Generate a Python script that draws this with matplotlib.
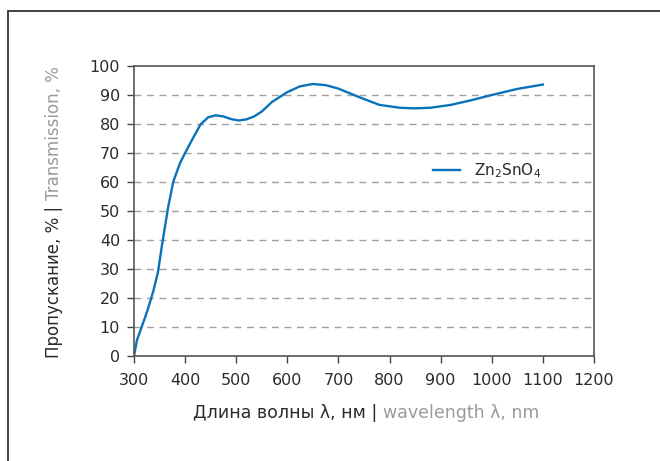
import matplotlib
matplotlib.use("Agg")
import matplotlib.pyplot as plt
from matplotlib.patches import Rectangle

# transmission spectrum of Zn2SnO4
wavelength = [300, 306, 315, 326, 338, 347, 355, 367, 377, 390, 400, 415, 430, 445,
              460, 475, 490, 505, 520, 535, 550, 570, 600, 625, 650, 675, 700, 740,
              780, 820, 850, 880, 920, 960, 1000, 1050, 1100]
transmission = [0, 5.6, 10, 15.5, 22.5, 29, 38.5, 51.5, 60.2, 66.5, 70, 75, 79.8, 82.3,
                83, 82.6, 81.7, 81.2, 81.6, 82.6, 84.3, 87.6, 91, 93, 93.8, 93.4, 92.2, 89.3,
                86.6, 85.6, 85.4, 85.6, 86.6, 88.2, 90, 92.1, 93.6]
series_name = r"Zn$_2$SnO$_4$"
x_ticks = list(range(300, 1201, 100))
y_ticks = list(range(0, 101, 10))

DARK = "#2b2b2b"
GREY = "#9a9a9a"
plt.rcParams["font.family"] = ["DejaVu Sans"]
plt.rcParams["mathtext.fontset"] = "dejavusans"

fig = plt.figure(figsize=(6.6, 4.61), dpi=100)
W, H = 660, 461

# outer frame (runs off right and bottom edges)
fig.patches.append(Rectangle((8 / W, -0.1), 1.2, 1 - 11.5 / H + 0.1, transform=fig.transFigure,
                             fill=False, edgecolor="#333333", linewidth=1.3))

ax = fig.add_axes([134 / W, 1 - 356 / H, (594 - 134) / W, (356 - 66) / H])
ax.plot(wavelength, transmission, color="#0a72ba", linewidth=1.7, label=series_name)

ax.set_xlim(300, 1200)
ax.set_ylim(0, 100)
ax.set_xticks(x_ticks)
ax.set_yticks(y_ticks)
ax.tick_params(direction="out", length=5, width=1, color="#444444", labelcolor=DARK,
               labelsize=11.5)
ax.tick_params(axis="y", pad=5)
ax.tick_params(axis="x", pad=7)
for s in ax.spines.values():
    s.set_color("#555555")
    s.set_linewidth(1.2)

for v in y_ticks[1:-1]:
    ax.axhline(v, color="#a0a0a0", linewidth=1, linestyle=(0, (5, 4)), zorder=0)

leg = ax.legend(loc="upper left", bbox_to_anchor=(0.62, 0.72), frameon=False,
                fontsize=11, handlelength=1.8, handletextpad=0.9, labelcolor=DARK)

# two-colour axis labels
fig.canvas.draw()
r = fig.canvas.get_renderer()

def two_tone(x, y, a, b, rotation=0, size=11):
    kw = dict(fontsize=size, rotation=rotation, transform=None, va="center", ha="left",
              rotation_mode="anchor")
    t1 = fig.text(x, y, a, color=DARK, **kw)
    t2 = fig.text(x, y, b, color=GREY, **kw)
    e1 = t1.get_window_extent(r)
    e2 = t2.get_window_extent(r)
    if rotation == 0:
        x0 = x - (e1.width + e2.width) / 2
        t1.set_position((x0, y))
        t2.set_position((x0 + e1.width, y))
    else:
        y0 = y - (e1.height + e2.height) / 2
        t1.set_position((x, y0))
        t2.set_position((x, y0 + e1.height))

two_tone(366, H - 413, "Длина волны λ, нм | ", "wavelength λ, nm", size=12.5)
two_tone(54, H - 212, "Пропускание, % | ", "Transmission, %", rotation=90, size=12)

fig.savefig("out.png", dpi=100)
